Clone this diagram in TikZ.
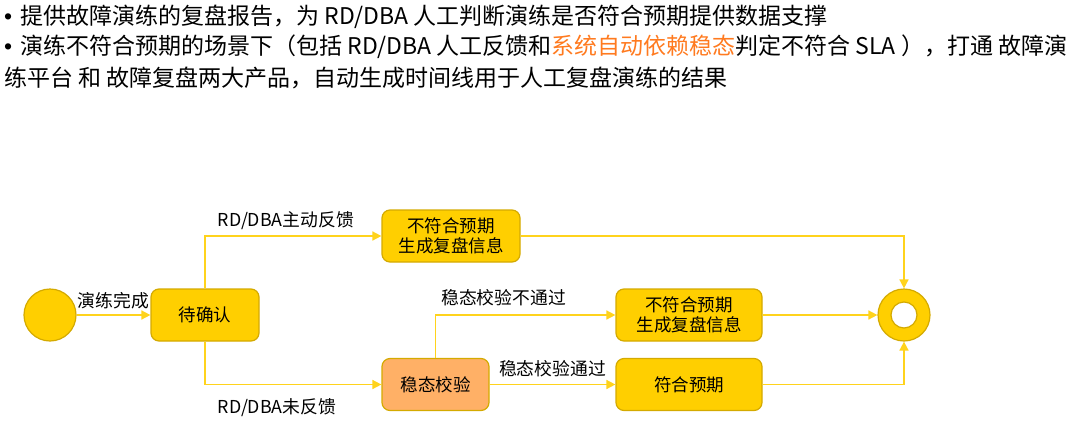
\documentclass[tikz,border=0pt]{standalone}
\usepackage{fontspec}
\setmainfont{Noto Sans CJK SC}
\newfontfamily\bulletfont{Liberation Sans}
\usepackage{tikz}
\usetikzlibrary{positioning}
\usetikzlibrary{arrows.meta}

\definecolor{goldfill}{HTML}{FFCF00}
\definecolor{goldline}{HTML}{D4AA00}
\definecolor{flowline}{HTML}{FFD31C}
\definecolor{checkfill}{HTML}{FFB066}
\definecolor{hilite}{HTML}{FF7A1F}

\begin{document}
\begin{tikzpicture}[x=1pt,y=-1pt,
    state/.style={rectangle,rounded corners=8pt,draw=goldline,fill=goldfill,line width=1.2pt,
      minimum height=52pt,align=center,font=\fontsize{17.5}{20}\selectfont,inner sep=2pt},
    dot/.style={circle,draw=goldline,fill=goldfill,line width=1.2pt,minimum size=52pt,inner sep=0pt},
    flow/.style={draw=flowline,line width=1.6pt,-{Triangle[length=9pt,width=9pt]},color=flowline},
    lbl/.style={font=\fontsize{17.8}{20}\selectfont,text=black,inner sep=1pt},
    note/.style={anchor=west,inner sep=0pt,font=\fontsize{23}{26}\selectfont},
    auto]
    \useasboundingbox (0,0) rectangle (1080,421);
    % notes on top
    \node [note] (l1) at (4,17)
      {{\bulletfont •}\hspace{8pt}提供故障演练的复盘报告，为 RD/DBA 人工判断演练是否符合预期提供数据支撑};
    \node [note] (l2) at (4,47)
      {{\bulletfont •}\hspace{8pt}演练不符合预期的场景下（包括 RD/DBA 人工反馈和\textcolor{hilite}{系统自动依赖稳态}判定不符合 SLA ），打通 故障演};
    \node [note] (l3) at (4,78)
      {练平台 和 故障复盘两大产品，自动生成时间线用于人工复盘演练的结果};
    % states
    \node (start) at (50,315) [dot] {};
    \node (wait) at (205,315) [state,minimum width=108pt] {待确认};
    \node (bad1) at (451,236) [state,minimum width=138pt] {不符合预期\\生成复盘信息};
    \node (check) at (435.5,384.5) [state,fill=checkfill,minimum width=107pt] {稳态校验};
    \node (bad2) at (689,315) [state,minimum width=146pt] {不符合预期\\生成复盘信息};
    \node (ok) at (689,384.5) [state,minimum width=146pt] {符合预期};
    \node (stop) at (904,315) [dot] {};
    \node (hole) at (stop) [circle,draw=goldline,fill=white,line width=1.2pt,minimum size=26pt,inner sep=0pt] {};
    % transitions
    \draw [flow] (start) to node [lbl,above=4pt] {演练完成} (wait);
    \draw [flow] (wait.north) |- node [lbl,pos=0.5,above right=5pt and 11pt] {RD/DBA主动反馈} (bad1.west);
    \draw [flow] (wait.south) |- node [lbl,pos=0.5,below right=12pt and 11pt] {RD/DBA未反馈} (check.west);
    \draw [flow] (check.north) |- node [lbl,pos=0.5,above right=7pt and 4pt] {稳态校验不通过} (bad2.west);
    \draw [flow] (check) to node [lbl,above=6pt] {稳态校验通过} (ok);
    \draw [flow] (bad1.east) -| (stop.north);
    \draw [flow] (bad2) to node {} (stop);
    \draw [flow] (ok.east) -| (stop.south);
  \end{tikzpicture}
\end{document}
